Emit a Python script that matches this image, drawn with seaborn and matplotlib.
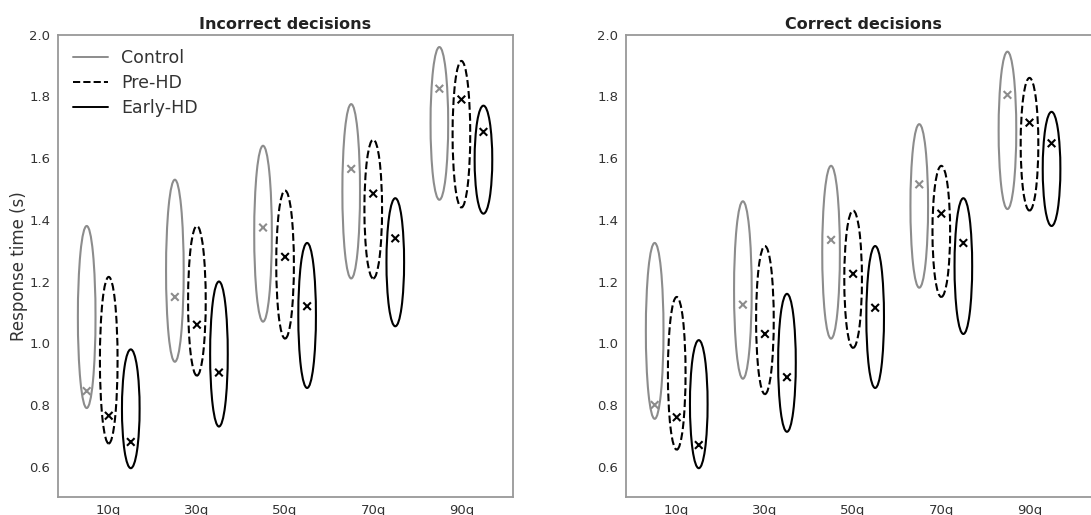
import numpy as np
import pandas as pd
import matplotlib
matplotlib.use('Agg')
import matplotlib.pyplot as plt
from matplotlib.patches import Ellipse
from matplotlib.lines import Line2D
import seaborn as sns

# quantile positions and labels
quantiles = [10, 30, 50, 70, 90]
qlabels = ['10q', '30q', '50q', '70q', '90q']
groups = ['Control', 'Pre-HD', 'Early-HD']

# Incorrect decisions: ellipse top / bottom and the mean (x marker)
inc_control_top = [1.38, 1.53, 1.64, 1.775, 1.96]
inc_control_bot = [0.79, 0.94, 1.07, 1.21, 1.465]
inc_control_mean = [0.845, 1.15, 1.375, 1.565, 1.825]
inc_pre_top = [1.215, 1.38, 1.495, 1.66, 1.915]
inc_pre_bot = [0.675, 0.895, 1.015, 1.21, 1.44]
inc_pre_mean = [0.765, 1.06, 1.28, 1.485, 1.79]
inc_early_top = [0.98, 1.20, 1.325, 1.47, 1.77]
inc_early_bot = [0.595, 0.73, 0.855, 1.055, 1.42]
inc_early_mean = [0.68, 0.905, 1.12, 1.34, 1.685]

# Correct decisions
cor_control_top = [1.325, 1.46, 1.575, 1.71, 1.945]
cor_control_bot = [0.755, 0.885, 1.015, 1.18, 1.435]
cor_control_mean = [0.80, 1.125, 1.335, 1.515, 1.805]
cor_pre_top = [1.15, 1.315, 1.43, 1.575, 1.86]
cor_pre_bot = [0.655, 0.835, 0.985, 1.15, 1.43]
cor_pre_mean = [0.76, 1.03, 1.225, 1.42, 1.715]
cor_early_top = [1.01, 1.16, 1.315, 1.47, 1.75]
cor_early_bot = [0.595, 0.713, 0.855, 1.03, 1.38]
cor_early_mean = [0.67, 0.89, 1.115, 1.325, 1.648]

offsets = {'Control': -5, 'Pre-HD': 0, 'Early-HD': 5}
colors = {'Control': '#8c8c8c', 'Pre-HD': 'black', 'Early-HD': 'black'}
styles = {'Control': '-', 'Pre-HD': '--', 'Early-HD': '-'}


def build_frame(tops, bots, means):
    rows = []
    for g in groups:
        for q, t, b, m in zip(quantiles, tops[g], bots[g], means[g]):
            rows.append({'group': g, 'x': q + offsets[g], 'top': t, 'bot': b, 'mean': m})
    return pd.DataFrame(rows)


inc = build_frame(
    {'Control': inc_control_top, 'Pre-HD': inc_pre_top, 'Early-HD': inc_early_top},
    {'Control': inc_control_bot, 'Pre-HD': inc_pre_bot, 'Early-HD': inc_early_bot},
    {'Control': inc_control_mean, 'Pre-HD': inc_pre_mean, 'Early-HD': inc_early_mean})
cor = build_frame(
    {'Control': cor_control_top, 'Pre-HD': cor_pre_top, 'Early-HD': cor_early_top},
    {'Control': cor_control_bot, 'Pre-HD': cor_pre_bot, 'Early-HD': cor_early_bot},
    {'Control': cor_control_mean, 'Pre-HD': cor_pre_mean, 'Early-HD': cor_early_mean})

sns.set_style('white')
plt.rcParams['font.family'] = ['DejaVu Sans']

fig = plt.figure(figsize=(10.91, 5.15), dpi=100)
ax1 = fig.add_axes([0.0532, 0.034, 0.417, 0.8986])
ax2 = fig.add_axes([0.5738, 0.034, 0.4345, 0.8986])


def draw_panel(ax, df, title, xmax):
    for _, r in df.iterrows():
        e = Ellipse((r['x'], (r['top'] + r['bot']) / 2), width=4.0, height=r['top'] - r['bot'],
                    fill=False, edgecolor=colors[r['group']], linestyle=styles[r['group']], lw=1.5)
        ax.add_patch(e)
    sns.scatterplot(data=df, x='x', y='mean', hue='group', palette=colors, marker='x',
                    s=30, linewidth=1.5, legend=False, ax=ax, zorder=3)
    ax.set_xlim(-1.5, xmax)
    ax.set_ylim(0.5, 2.0)
    ax.set_xticks(quantiles)
    ax.set_xticklabels(qlabels)
    ax.set_yticks([0.6, 0.8, 1.0, 1.2, 1.4, 1.6, 1.8, 2.0])
    ax.set_xlabel('')
    ax.set_ylabel('')
    ax.tick_params(labelsize=9.5, colors='#333333')
    ax.tick_params(axis='x', pad=1)
    ax.tick_params(axis='y', pad=2)
    ax.set_title(title, fontsize=11.5, fontweight='bold', color='#222222', pad=4)
    for sp in ax.spines.values():
        sp.set_color('#999999')
        sp.set_linewidth(1.3)


draw_panel(ax1, inc, 'Incorrect decisions', 101.7)
draw_panel(ax2, cor, 'Correct decisions', 106.0)

ax1.set_ylabel('Response time (s)', fontsize=12, color='#333333', labelpad=1)

handles = [Line2D([0], [0], color=colors[g], linestyle=styles[g], lw=1.4) for g in groups]
ax1.legend(handles, groups, loc='upper left', frameon=False, fontsize=12.5,
           handlelength=2.0, borderaxespad=0.45, labelspacing=0.4, handletextpad=0.8,
           labelcolor='#333333')

fig.savefig('out.png', dpi=100)
